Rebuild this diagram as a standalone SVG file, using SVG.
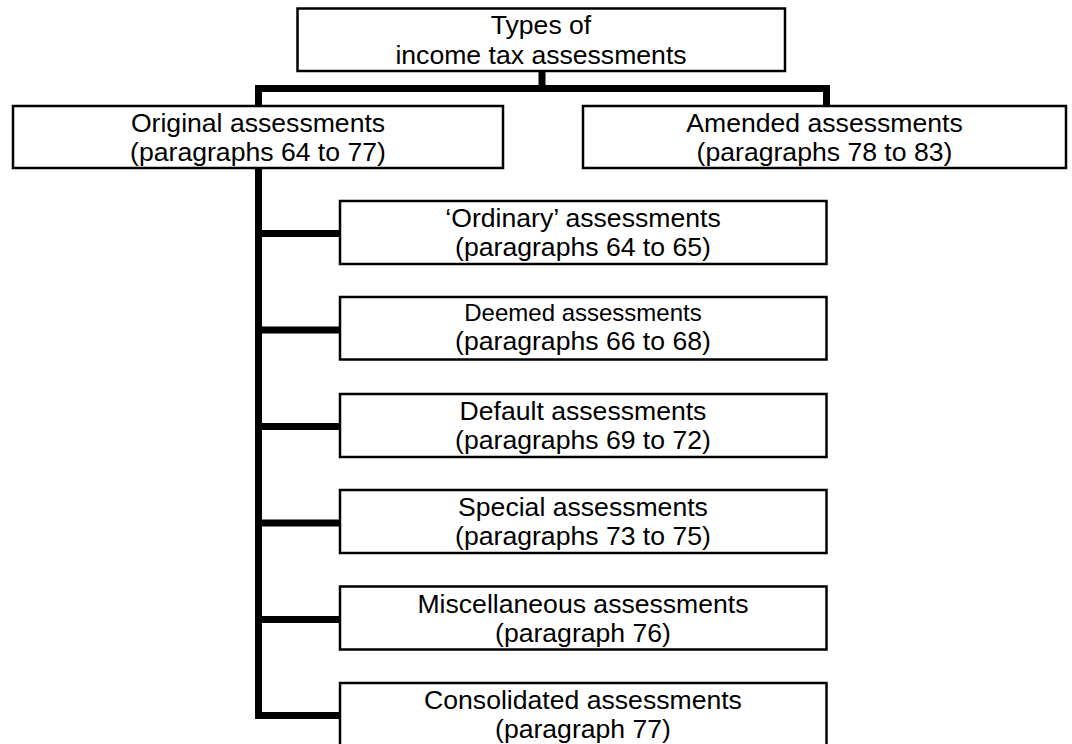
<svg xmlns="http://www.w3.org/2000/svg" width="1072" height="744" viewBox="0 0 1072 744">
<style>
.box{fill:#fff;stroke:#000;stroke-width:2.5}
.t{font-family:"Liberation Sans",Arial,sans-serif;font-size:26.6px;fill:#000;text-anchor:middle}
.s{font-size:24px}
.c{fill:none;stroke:#000;stroke-width:7;stroke-linejoin:miter;stroke-linecap:square}
</style>
<rect width="1072" height="744" fill="#fff"/>
<g id="connectors">
<path class="c" d="M542 72 V88.5"/>
<path class="c" d="M258.5 105 V88.5 H826.5 V105"/>
<path class="c" d="M258.5 170 V715.5"/>
<path class="c" d="M258.5 233.5 H339"/>
<path class="c" d="M258.5 330 H339"/>
<path class="c" d="M258.5 426.5 H339"/>
<path class="c" d="M258.5 523 H339"/>
<path class="c" d="M258.5 619.5 H339"/>
<path class="c" d="M258.5 715.5 H339"/>
</g>
<g id="root">
<rect class="box" x="297.5" y="8.5" width="487.5" height="62.5"/>
<text class="t" x="541" y="34">Types of</text>
<text class="t" x="541" y="63.5">income tax assessments</text>
</g>
<g id="original">
<rect class="box" x="13" y="106" width="490" height="62"/>
<text class="t" x="258" y="132">Original assessments</text>
<text class="t" x="258" y="161">(paragraphs 64 to 77)</text>
</g>
<g id="amended">
<rect class="box" x="583" y="106" width="483" height="62"/>
<text class="t" x="824.5" y="132">Amended assessments</text>
<text class="t" x="824.5" y="161">(paragraphs 78 to 83)</text>
</g>
<g id="ordinary">
<rect class="box" x="340" y="201" width="486.5" height="63"/>
<text class="t" x="583" y="227">‘Ordinary’ assessments</text>
<text class="t" x="583" y="256">(paragraphs 64 to 65)</text>
</g>
<g id="deemed">
<rect class="box" x="340" y="297" width="486.5" height="62.5"/>
<text class="t s" x="583" y="321">Deemed assessments</text>
<text class="t" x="583" y="350">(paragraphs 66 to 68)</text>
</g>
<g id="default">
<rect class="box" x="340" y="394" width="486.5" height="63"/>
<text class="t" x="583" y="420">Default assessments</text>
<text class="t" x="583" y="449">(paragraphs 69 to 72)</text>
</g>
<g id="special">
<rect class="box" x="340" y="490" width="486.5" height="63"/>
<text class="t" x="583" y="516">Special assessments</text>
<text class="t" x="583" y="545">(paragraphs 73 to 75)</text>
</g>
<g id="miscellaneous">
<rect class="box" x="340" y="586.5" width="486.5" height="63"/>
<text class="t" x="583" y="612.5">Miscellaneous assessments</text>
<text class="t" x="583" y="641.5">(paragraph 76)</text>
</g>
<g id="consolidated">
<rect class="box" x="340" y="683" width="486.5" height="70"/>
<text class="t" x="583" y="709">Consolidated assessments</text>
<text class="t" x="583" y="738">(paragraph 77)</text>
</g>
</svg>
